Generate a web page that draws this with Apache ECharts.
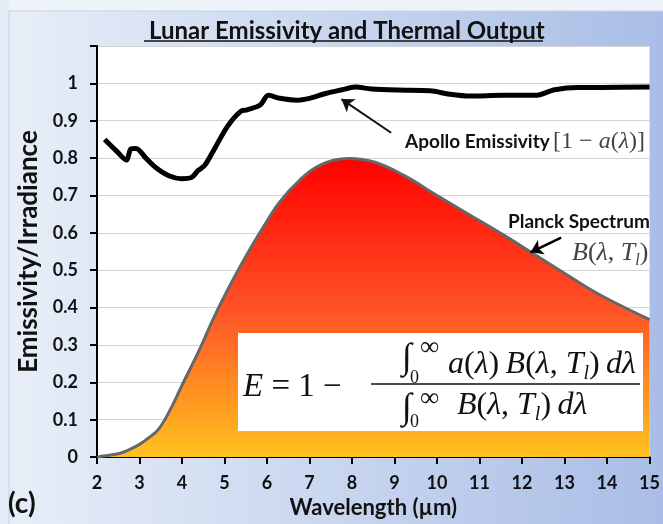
<!DOCTYPE html>
<html>
<head>
<meta charset="utf-8">
<script src="https://cdn.jsdelivr.net/npm/echarts@6/dist/echarts.min.js"></script>
<style>
  html, body { margin: 0; padding: 0; }
  #chart { width: 663px; height: 524px; }
</style>
</head>
<body>
<div id="chart"></div>
<script>
// emissivity
const emisWave = [2.18, 2.45, 2.69, 2.80, 2.92, 3.15, 3.38, 3.69, 3.99, 4.22, 4.38, 4.53, 4.76, 5.07, 5.38, 5.53, 5.84, 6.03, 6.30, 6.69, 7.0, 7.38, 7.77, 8.07, 8.46, 9.07, 9.84, 10.3, 10.77, 11.54, 12.31, 12.77, 13.31, 13.85, 15.0];
const emisValue = [0.85, 0.82, 0.795, 0.825, 0.826, 0.80, 0.775, 0.753, 0.745, 0.748, 0.767, 0.78, 0.824, 0.885, 0.925, 0.929, 0.942, 0.968, 0.96, 0.955, 0.96, 0.973, 0.983, 0.99, 0.985, 0.982, 0.98, 0.971, 0.966, 0.968, 0.968, 0.983, 0.989, 0.989, 0.99];

// planck spectrum (normalised)
const planckWave = [2.0, 2.15, 2.5, 2.76, 3.0, 3.22, 3.46, 3.76, 3.99, 4.38, 4.76, 5.15, 5.53, 5.92, 6.30, 6.76, 7.23, 7.92, 8.54, 9.23, 10.0, 10.77, 11.54, 12.23, 13.08, 13.85, 15.0];
const planckValue = [0, 0.003, 0.009, 0.02, 0.034, 0.052, 0.076, 0.135, 0.19, 0.28, 0.376, 0.464, 0.543, 0.617, 0.683, 0.74, 0.78, 0.799, 0.789, 0.753, 0.70, 0.648, 0.596, 0.547, 0.486, 0.433, 0.368];

const xTicks = [2, 3, 4, 5, 6, 7, 8, 9, 10, 11, 12, 13, 14, 15];

const emisData = emisWave.map((w, i) => [w, emisValue[i]]);
const planckData = planckWave.map((w, i) => [w, planckValue[i]]);

const boldFont = 'Lato';
const mathFont = 'Liberation Serif';

let chart = echarts.init(document.getElementById('chart'));

const mathRich = (size, subSize, color) => ({
  m: { fontFamily: mathFont, fontSize: size, fill: color, lineHeight: size + 6, verticalAlign: 'middle' },
  i: { fontFamily: mathFont, fontStyle: 'italic', fontSize: size, fill: color, lineHeight: size + 6, verticalAlign: 'middle' },
  s: { fontFamily: mathFont, fontStyle: 'italic', fontSize: subSize, fill: color, lineHeight: subSize, verticalAlign: 'bottom' }
});

const thin = '\u2009';

let option = {
  animation: false,
  backgroundColor: new echarts.graphic.LinearGradient(0, 0, 1, 0, [
    { offset: 0, color: '#e8eff8' },
    { offset: 1, color: '#a9bde6' }
  ]),
  title: {
    text: 'Lunar Emissivity and Thermal Output',
    left: 144,
    top: 14,
    textStyle: { fontFamily: boldFont, fontWeight: 'bold', fontSize: 24, color: '#111' }
  },
  grid: {
    left: 97, right: 3, top: 46, bottom: 61,
    show: true, backgroundColor: '#fff', borderWidth: 0
  },
  xAxis: {
    type: 'value',
    min: 2, max: 15, interval: 1,
    name: 'Wavelength (µm)',
    nameLocation: 'middle',
    nameGap: 36,
    nameTextStyle: { fontFamily: boldFont, fontWeight: 'bold', fontSize: 22, color: '#111' },
    axisLine: { lineStyle: { color: '#000', width: 2 } },
    axisTick: { show: true, length: 7, lineStyle: { color: '#000', width: 2 } },
    axisLabel: {
      margin: 17,
      fontFamily: boldFont, fontWeight: 'bold', fontSize: 18, color: '#111',
      formatter: v => xTicks.includes(v) ? String(v) : ''
    },
    splitLine: { show: false }
  },
  yAxis: {
    type: 'value',
    min: 0, max: 1.1, interval: 0.1,
    name: 'Emissivity/Irradiance',
    nameLocation: 'middle',
    nameGap: 47,
    nameTextStyle: { fontFamily: boldFont, fontWeight: 'bold', fontSize: 26, color: '#111' },
    axisLine: { show: true, lineStyle: { color: '#000', width: 2 } },
    axisTick: { show: true, length: 7, lineStyle: { color: '#000', width: 2 } },
    axisLabel: {
      margin: 19,
      fontFamily: boldFont, fontWeight: 'bold', fontSize: 18, color: '#111',
      formatter: v => v > 1.05 ? '' : String(+v.toFixed(1))
    },
    splitLine: { show: true, lineStyle: { color: '#d4d4d4', width: 1 } }
  },
  series: [
    {
      name: 'Planck Spectrum',
      type: 'line',
      data: planckData,
      smooth: 0.4,
      showSymbol: false,
      z: 2,
      lineStyle: { color: '#676767', width: 3 },
      areaStyle: {
        opacity: 1,
        color: new echarts.graphic.LinearGradient(0, 0, 0, 1, [
          { offset: 0, color: '#ff0000' },
          { offset: 0.5, color: '#ff5226' },
          { offset: 1, color: '#ffc21e' }
        ])
      },
      markLine: {
        silent: true,
        symbol: ['none', 'arrow'],
        symbolSize: 12,
        label: { show: false },
        lineStyle: { color: '#000', width: 2.5, type: 'solid' },
        data: [[{ coord: [12.92, 0.587] }, { coord: [12.2, 0.548] }]]
      }
    },
    {
      name: 'Apollo Emissivity',
      type: 'line',
      data: emisData,
      smooth: 0.3,
      showSymbol: false,
      z: 3,
      lineStyle: { color: '#000', width: 5 },
      markLine: {
        silent: true,
        symbol: ['none', 'arrow'],
        symbolSize: 12,
        label: { show: false },
        lineStyle: { color: '#111', width: 2, type: 'solid' },
        data: [[{ coord: [8.92, 0.868] }, { coord: [7.75, 0.958] }]]
      }
    }
  ],
  graphic: [
    // outer frame pieces
    { type: 'rect', z: -10, silent: true, shape: { x: 0, y: 0, width: 663, height: 11 }, style: { fill: '#eef3fa' } },
    { type: 'rect', z: -10, silent: true, shape: { x: 0, y: 0, width: 9, height: 524 }, style: { fill: '#e3edf8' } },
    { type: 'line', z: -9, silent: true, shape: { x1: 9, y1: 11, x2: 663, y2: 11 }, style: { stroke: '#c8d2e2', lineWidth: 1 } },
    { type: 'line', z: -9, silent: true, shape: { x1: 9, y1: 11, x2: 9, y2: 524 }, style: { stroke: '#c8d2e2', lineWidth: 1 } },
    // title underline
    { type: 'line', silent: true, shape: { x1: 144, y1: 41, x2: 543, y2: 41 }, style: { stroke: '#111', lineWidth: 1.5 } },
    // panel label
    { type: 'text', x: 8, y: 504, style: { text: '(c)', font: 'bold 28px Lato', fill: '#111', verticalAlign: 'middle' } },
    // annotations
    {
      type: 'text', x: 405, y: 142, z: 10,
      style: {
        text: '{b|Apollo Emissivity} {m|[1 − }{i|a}{m|(}{i|λ}{m|)]}',
        verticalAlign: 'middle',
        rich: {
          b: { fontFamily: boldFont, fontWeight: 'bold', fontSize: 19, fill: '#111', lineHeight: 26, verticalAlign: 'middle' },
          m: { fontFamily: mathFont, fontSize: 24, fill: '#444', lineHeight: 26, verticalAlign: 'middle' },
          i: { fontFamily: mathFont, fontStyle: 'italic', fontSize: 24, fill: '#444', lineHeight: 26, verticalAlign: 'middle' }
        }
      }
    },
    {
      type: 'text', x: 508, y: 222, z: 10,
      style: { text: 'Planck Spectrum', font: 'bold 19px Lato', fill: '#111', verticalAlign: 'middle' }
    },
    {
      type: 'text', x: 572, y: 253, z: 10,
      style: { text: '{i|B}{m|(}{i|λ}{m|, }{i|T}{s|l}{m|)}', verticalAlign: 'middle', rich: mathRich(26, 16, '#444') }
    },
    // formula box
    { type: 'rect', z: 20, shape: { x: 238, y: 333, width: 405, height: 98 }, style: { fill: '#fff' } },
    { type: 'text', z: 21, x: 243, y: 387, style: { text: '{i|E}{m| = 1 − }', verticalAlign: 'middle', rich: mathRich(33, 20, '#111') } },
    { type: 'line', z: 21, shape: { x1: 371, y1: 384, x2: 640, y2: 384 }, style: { stroke: '#111', lineWidth: 1.6 } },
    // numerator
    { type: 'text', z: 21, x: 402, y: 359, style: { text: '∫', font: 'italic 36px "Liberation Serif"', fill: '#111', verticalAlign: 'middle' } },
    { type: 'text', z: 21, x: 420, y: 348, style: { text: '∞', font: '27px "Liberation Serif"', fill: '#111', verticalAlign: 'middle' } },
    { type: 'text', z: 21, x: 410, y: 378, style: { text: '0', font: '18px "Liberation Serif"', fill: '#111', verticalAlign: 'middle' } },
    { type: 'text', z: 21, x: 448, y: 365, style: { text: '{i|a}{m|(}{i|λ}{m|)' + thin + '}{i|B}{m|(}{i|λ}{m|, }{i|T}{s|l}{m|)' + thin + '}{i|dλ}', verticalAlign: 'middle', rich: mathRich(32, 20, '#111') } },
    // denominator
    { type: 'text', z: 21, x: 402, y: 409, style: { text: '∫', font: 'italic 36px "Liberation Serif"', fill: '#111', verticalAlign: 'middle' } },
    { type: 'text', z: 21, x: 420, y: 399, style: { text: '∞', font: '27px "Liberation Serif"', fill: '#111', verticalAlign: 'middle' } },
    { type: 'text', z: 21, x: 410, y: 422, style: { text: '0', font: '18px "Liberation Serif"', fill: '#111', verticalAlign: 'middle' } },
    { type: 'text', z: 21, x: 457, y: 406, style: { text: '{i|B}{m|(}{i|λ}{m|, }{i|T}{s|l}{m|)' + thin + '}{i|dλ}', verticalAlign: 'middle', rich: mathRich(32, 20, '#111') } }
  ]
};

chart.setOption(option);
</script>
</body>
</html>
